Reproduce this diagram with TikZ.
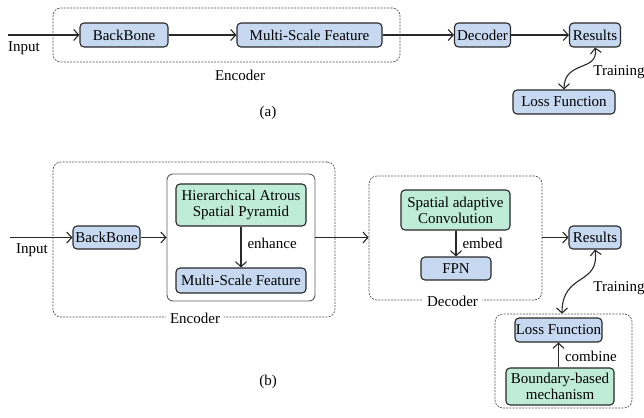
\documentclass[tikz,border=0pt]{standalone}
\usepackage{fontspec}
\setmainfont{Liberation Serif}
\usetikzlibrary{arrows.meta}
\definecolor{boxblue}{RGB}{198,217,241}
\definecolor{boxgreen}{RGB}{190,236,214}
\definecolor{edgegray}{RGB}{40,40,40}
\tikzset{
  every node/.style={font=\rmfamily\fontsize{15}{17}\selectfont, inner sep=0pt},
  blk/.style={draw=edgegray, line width=1.1pt, rounded corners=4pt, align=center},
  bluebox/.style={blk, fill=boxblue},
  greenbox/.style={blk, fill=boxgreen},
  group/.style={draw=edgegray!80, dash pattern=on 2pt off 1.2pt, line width=0.7pt, rounded corners=8pt},
  holder/.style={draw=edgegray!75, line width=0.9pt, rounded corners=6pt},
  flow/.style={line width=1.1pt, draw=edgegray, -{Straight Barb[length=5pt,width=11pt]}},
  twoway/.style={line width=1.1pt, draw=edgegray, {Straight Barb[length=5pt,width=11pt]}-{Straight Barb[length=5pt,width=11pt]}},
  cut/.style={fill=white, inner xsep=4pt, inner ysep=1pt},
}
\begin{document}
\begin{tikzpicture}[x=1pt, y=-1pt]
\useasboundingbox (0,0) rectangle (644,417);

% ---------- (a) baseline pipeline ----------
\node[group, minimum width=347pt, minimum height=54pt] (encA) at (226.5,35) {};
\node (encAlbl) at (240,75) {Encoder};
\node[bluebox, minimum width=88pt, minimum height=24pt] (bbA) at (124,35) {BackBone};
\node[bluebox, minimum width=145pt, minimum height=24pt] (msfA) at (309.5,35) {Multi-Scale Feature};
\node[bluebox, minimum width=56pt, minimum height=24pt] (decA) at (482.5,35) {Decoder};
\node[bluebox, minimum width=51pt, minimum height=24pt] (resA) at (595,35) {Results};
\node[bluebox, minimum width=102pt, minimum height=24pt] (lossA) at (564,102) {Loss Function};
\coordinate (inA) at (8,35);
\node (inAlbl) at (24,48) {Input};
\node (trA) at (619,72) {Training};
\node (capA) at (268,113) {(a)};

\draw[flow] (inA) -- (bbA);
\draw[flow] (bbA) -- (msfA);
\draw[flow] (msfA) -- (decA);
\draw[flow] (decA) -- (resA);
\draw[twoway] (resA.south) .. controls (599,72) and (564,60) .. (lossA.north);

% ---------- (b) proposed pipeline ----------
\node[group, minimum width=282pt, minimum height=155pt] (encB) at (194,239.5) {};
\node[cut] (encBlbl) at (195,318) {Encoder};
\node[holder, minimum width=148pt, minimum height=127pt] (hold) at (241,237.5) {};
\node[greenbox, minimum width=130pt, minimum height=42pt] (hasp) at (241,205)
  {Hierarchical Atrous\\[-1pt]Spatial Pyramid};
\node[bluebox, minimum width=130pt, minimum height=25pt] (msfB) at (241,280.5) {Multi-Scale Feature};
\node[bluebox, minimum width=67pt, minimum height=23pt] (bbB) at (106.5,237.5) {BackBone};
\coordinate (inB) at (10,237.5);
\node (inBlbl) at (32,250) {Input};

\node[group, minimum width=173pt, minimum height=124pt] (decB) at (455.5,238) {};
\node[cut] (decBlbl) at (452.5,301) {Decoder};
\node[greenbox, minimum width=109pt, minimum height=40pt] (sac) at (455.5,210)
  {Spatial adaptive\\[-1pt]Convolution};
\node[bluebox, minimum width=70pt, minimum height=23pt] (fpn) at (456,268.5) {FPN};

\node[bluebox, minimum width=52pt, minimum height=23pt] (resB) at (595,237.5) {Results};
\node (trB) at (619,288) {Training};

\node[group, minimum width=137pt, minimum height=94pt] (lossgrp) at (563.5,361) {};
\node[bluebox, minimum width=87pt, minimum height=24pt] (lossB) at (558.5,330) {Loss Function};
\node[greenbox, minimum width=108pt, minimum height=37pt] (bbm) at (560,386.5)
  {Boundary-based\\[-1pt]mechanism};
\node (capB) at (268,382) {(b)};

\draw[flow] (inB) -- (bbB);
\draw[flow] (bbB) -- (hold.west |- bbB);
\draw[flow] (hold.east |- bbB) -- (decB.west |- bbB);
\draw[flow] (decB.east |- resB) -- (resB);
\draw[flow] (hasp) -- node[right=6pt, pos=0.42] {enhance} (msfB);
\draw[flow] (sac.south -| fpn) -- node[right=6pt, pos=0.5] {embed} (fpn);
\draw[flow] (bbm.north -| lossB) -- node[right=6pt, pos=0.45] {combine} (lossB);
\draw[twoway] (resB.south) .. controls (600,286) and (562,272) .. (lossgrp.north -| 562,0);
\end{tikzpicture}
\end{document}
